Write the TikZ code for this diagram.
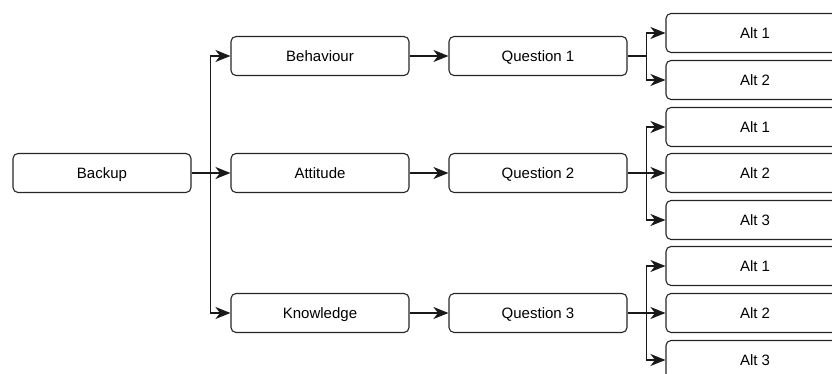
\documentclass[tikz,border=0pt]{standalone}
\usepackage{fontspec}
\setmainfont{Liberation Sans}
\usetikzlibrary{arrows.meta, positioning}
\tikzset{
  box/.style={draw=black!85, line width=1.1pt, rounded corners=5pt,
    minimum width=178pt, minimum height=39pt, inner sep=0pt,
    text height=10.5pt, text depth=0pt,
    font=\fontsize{15}{18}\selectfont},
  link/.style={draw=black!90, line width=1.3pt,
    -{Stealth[length=15pt,width=12pt,inset=4.5pt]}}
}
\begin{document}
\begin{tikzpicture}[x=1pt,y=1pt]
  \useasboundingbox (0,0) rectangle (832,374);
  \clip (0,0) rectangle (832,374);
  % root
  \node[box] (backup) at (102,201) {Backup};
  % categories
  \node[box] (beh) at (320,318) {Behaviour};
  \node[box] (att) at (320,201) {Attitude};
  \node[box] (kno) at (320,61) {Knowledge};
  % questions
  \node[box] (q1) at (538,318) {Question 1};
  \node[box] (q2) at (538,201) {Question 2};
  \node[box] (q3) at (538,61) {Question 3};
  % alternatives
  \node[box] (a11) at (755,341) {Alt 1};
  \node[box] (a12) at (755,294) {Alt 2};
  %
  \node[box] (a21) at (755,247) {Alt 1};
  \node[box] (a22) at (755,201) {Alt 2};
  \node[box] (a23) at (755,154) {Alt 3};
  %
  \node[box] (a31) at (755,108) {Alt 1};
  \node[box] (a32) at (755,61) {Alt 2};
  \node[box] (a33) at (755,14) {Alt 3};
  % connectors
  \foreach \t in {beh,att,kno}
    \draw[link] (backup.east) -- ++(19,0) |- (\t.west);
  \foreach \s/\q in {beh/q1,att/q2,kno/q3}
    \draw[link] (\s) -- (\q);
  \foreach \t in {a11,a12}
    \draw[link] (q1.east) -- ++(19,0) |- (\t.west);
  \foreach \t in {a21,a22,a23}
    \draw[link] (q2.east) -- ++(19,0) |- (\t.west);
  \foreach \t in {a31,a32,a33}
    \draw[link] (q3.east) -- ++(19,0) |- (\t.west);
\end{tikzpicture}
\end{document}
